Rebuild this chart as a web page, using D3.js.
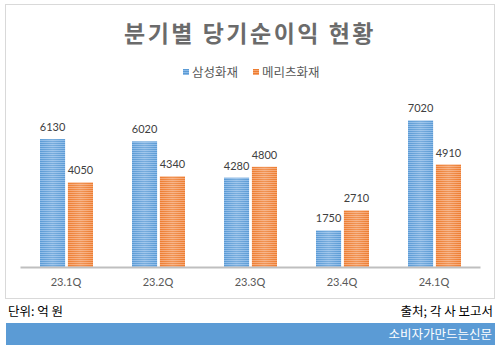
<!DOCTYPE html>
<html>
<head>
<meta charset="utf-8">
<script src="https://cdn.jsdelivr.net/npm/d3@7"></script>
<style>
  body { margin: 0; background: #fff; }
  svg { display: block; }
</style>
</head>
<body>
<div id="chart"></div>
<script>
// data
const quarters = ["23.1Q", "23.2Q", "23.3Q", "23.4Q", "24.1Q"];
const seriesNames = ["삼성화재", "메리츠화재"];
const samsung = [6130, 6020, 4280, 1750, 7020];
const meritz = [4050, 4340, 4800, 2710, 4910];

const colors = ["#5b9bd5", "#ed7d31"];
const stripe = ["#8dbbe8", "#f6a673"];

const W = 500, H = 351;
const korFont = "'Noto Sans CJK KR', sans-serif";
const numFont = "Lato, 'Open Sans', sans-serif";

const svg = d3.select("#chart").append("svg")
  .attr("width", W).attr("height", H);

// striped fill patterns like the office chart
const defs = svg.append("defs");
colors.forEach((c, i) => {
  const p = defs.append("pattern")
    .attr("id", "pat" + i)
    .attr("patternUnits", "userSpaceOnUse")
    .attr("width", 4).attr("height", 2);
  p.append("rect").attr("width", 4).attr("height", 2).attr("fill", c);
  p.append("rect").attr("width", 4).attr("height", 1).attr("fill", stripe[i]);

  const g = defs.append("linearGradient").attr("id", "shade" + i)
    .attr("x1", 0).attr("x2", 1).attr("y1", 0).attr("y2", 0);
  g.append("stop").attr("offset", 0).attr("stop-color", "#fff").attr("stop-opacity", 0);
  g.append("stop").attr("offset", 0.5).attr("stop-color", "#fff").attr("stop-opacity", 0.18);
  g.append("stop").attr("offset", 1).attr("stop-color", "#fff").attr("stop-opacity", 0);
});

// outer chart border
svg.append("rect")
  .attr("x", 5.5).attr("y", 4.5)
  .attr("width", 489).attr("height", 294)
  .attr("fill", "#fff").attr("stroke", "#d9d9d9");

// title
svg.append("text")
  .attr("x", 250).attr("y", 42)
  .attr("text-anchor", "middle")
  .attr("font-family", korFont)
  .attr("font-size", 23).attr("font-weight", "bold")
  .attr("letter-spacing", 2.5)
  .attr("fill", "#6b6b6b")
  .text("분기별 당기순이익 현황");

// legend
const legendX = [183, 253];
seriesNames.forEach((name, i) => {
  svg.append("rect")
    .attr("x", legendX[i]).attr("y", 69)
    .attr("width", 6).attr("height", 6)
    .attr("fill", "url(#pat" + i + ")");
  svg.append("text")
    .attr("x", legendX[i] + 9).attr("y", 77)
    .attr("font-family", korFont).attr("font-size", 12.5)
    .attr("fill", "#595959")
    .text(name);
});

// scales
const x0 = d3.scaleBand().domain(quarters).range([20, 480]).paddingInner(0).paddingOuter(0);
const x1 = d3.scaleBand().domain(seriesNames).range([20, 73]).paddingInner(0.1).paddingOuter(0);
const y = d3.scaleLinear().domain([0, 8000]).range([267, 100]);

const rows = quarters.map((q, i) => ({ q, vals: [samsung[i], meritz[i]] }));

const groups = svg.selectAll(".grp")
  .data(rows)
  .join("g")
  .attr("class", "grp")
  .attr("transform", d => `translate(${x0(d.q)},0)`);

groups.each(function (d) {
  const g = d3.select(this);
  d.vals.forEach((v, i) => {
    const bx = x1(seriesNames[i]);
    g.append("rect")
      .attr("x", bx).attr("y", y(v))
      .attr("width", x1.bandwidth()).attr("height", y(0) - y(v))
      .attr("fill", "url(#pat" + i + ")");
    g.append("rect")
      .attr("x", bx).attr("y", y(v))
      .attr("width", x1.bandwidth()).attr("height", y(0) - y(v))
      .attr("fill", "url(#shade" + i + ")");
    g.append("text")
      .attr("x", bx + x1.bandwidth() / 2).attr("y", y(v) - 8)
      .attr("text-anchor", "middle")
      .attr("font-family", numFont).attr("font-size", 11)
      .attr("fill", "#404040")
      .text(v);
  });
});

// x axis
const xAxis = d3.axisBottom(x0).tickSize(0).tickPadding(11);
const xAxisG = svg.append("g")
  .attr("transform", `translate(0,${y(0)})`)
  .call(xAxis);
xAxisG.select(".domain").attr("stroke", "#bfbfbf").attr("stroke-width", 2);
xAxisG.selectAll("text")
  .attr("font-family", numFont).attr("font-size", 11)
  .attr("fill", "#595959");

// footer
svg.append("text")
  .attr("x", 8).attr("y", 316)
  .attr("font-family", korFont).attr("font-size", 12.5)
  .attr("fill", "#000")
  .text("단위: 억 원");
svg.append("text")
  .attr("x", 493).attr("y", 316)
  .attr("text-anchor", "end")
  .attr("font-family", korFont).attr("font-size", 12.5)
  .attr("fill", "#000")
  .text("출처; 각 사 보고서");

svg.append("rect")
  .attr("x", 6).attr("y", 323)
  .attr("width", 489).attr("height", 22)
  .attr("fill", "#5b9bd5");
svg.append("text")
  .attr("x", 492).attr("y", 339)
  .attr("text-anchor", "end")
  .attr("font-family", korFont).attr("font-size", 12.5)
  .attr("fill", "#fff")
  .text("소비자가만드는신문");
</script>
</body>
</html>
